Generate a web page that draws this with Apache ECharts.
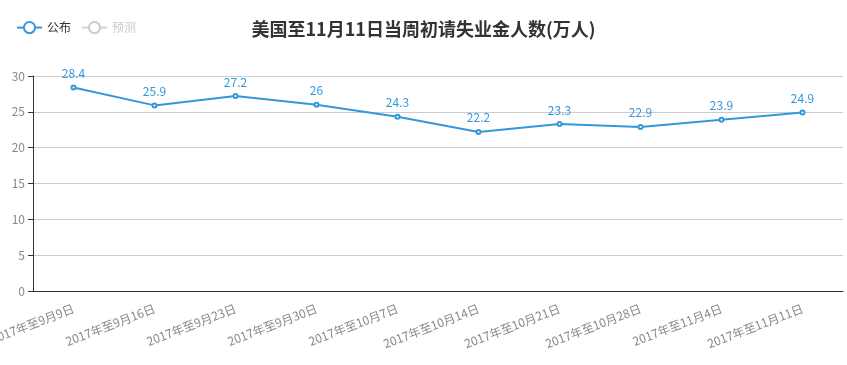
<!DOCTYPE html>
<html><head><meta charset="utf-8">
<script src="https://cdn.jsdelivr.net/npm/echarts@6/dist/echarts.min.js"></script>
<style>html,body{margin:0;padding:0;background:#fff}#c{width:847px;height:365px}</style>
</head><body><div id="c"></div>
<script>
var categories = ['2017年至9月9日','2017年至9月16日','2017年至9月23日','2017年至9月30日','2017年至10月7日','2017年至10月14日','2017年至10月21日','2017年至10月28日','2017年至11月4日','2017年至11月11日'];
var published = [28.4, 25.9, 27.2, 26, 24.3, 22.2, 23.3, 22.9, 23.9, 24.9];
var forecast = [];
var chart = echarts.init(document.getElementById('c'));
var font = '"Noto Sans CJK SC", "Noto Sans", sans-serif';
chart.setOption({
  animation: false,
  textStyle: {fontFamily: font},
  title: {text: '美国至11月11日当周初请失业金人数(万人)', left: 'center', top: 15,
    textStyle: {fontSize: 18, fontWeight: 'bold', color: '#333', fontFamily: font}},
  legend: {left: 11, top: 16, itemGap: 10, data: ['公布', '预测'],
    selected: {'公布': true, '预测': false},
    textStyle: {fontSize: 12, color: '#333'}, inactiveColor: '#ccc'},
  grid: {left: 33, right: 4, top: 76, bottom: 74, containLabel: false, outerBoundsMode: 'none'},
  xAxis: {type: 'category', data: categories, boundaryGap: true,
    axisLine: {lineStyle: {color: '#333'}},
    axisTick: {lineStyle: {color: '#333'}},
    axisLabel: {rotate: 21, color: '#888', fontSize: 12, interval: 0, margin: 17}},
  yAxis: {type: 'value', min: 0, max: 30, interval: 5,
    axisLine: {show: true, lineStyle: {color: '#333'}},
    axisTick: {show: true, lineStyle: {color: '#333'}},
    axisLabel: {color: '#888', fontSize: 12},
    splitLine: {lineStyle: {color: '#ccc'}}},
  series: [
    {name: '公布', type: 'line', data: published, symbol: 'emptyCircle', symbolSize: 4,
      itemStyle: {color: '#3398DB', borderWidth: 1}, lineStyle: {width: 2, color: '#3398DB'},
      label: {show: true, position: 'top', color: '#3398DB', fontSize: 12}},
    {name: '预测', type: 'line', data: forecast, symbol: 'emptyCircle', symbolSize: 4,
      itemStyle: {color: '#999', borderWidth: 1}}
  ]
});
</script></body></html>
